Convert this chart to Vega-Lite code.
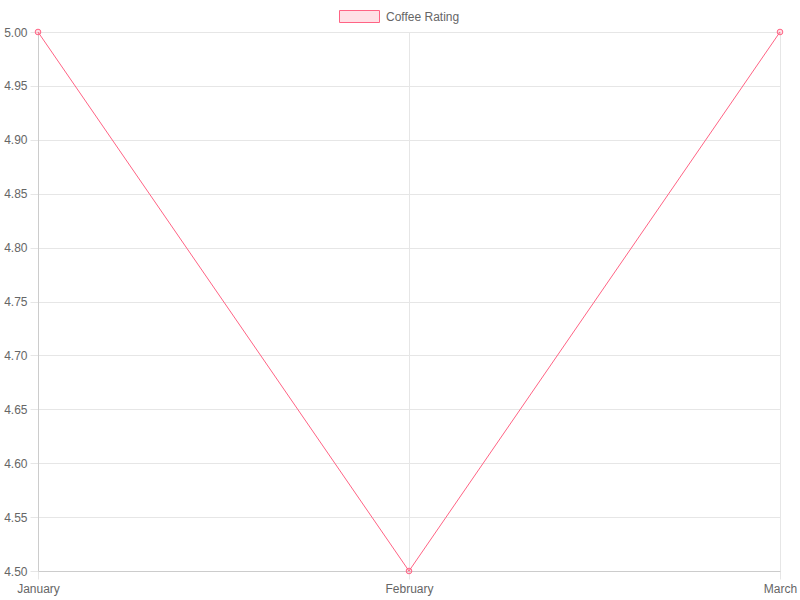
{
  "$schema": "https://vega.github.io/schema/vega-lite/v6.json",
  "width": 742,
  "height": 539,
  "autosize": {"type": "none"},
  "padding": {"left": 38, "top": 32, "right": 20, "bottom": 29},
  "background": "white",
  "data": {"values": [
    {"month": "January", "rating": 5.0, "series": "Coffee Rating"},
    {"month": "February", "rating": 4.5, "series": "Coffee Rating"},
    {"month": "March", "rating": 5.0, "series": "Coffee Rating"}
  ]},
  "config": {
    "font": "Liberation Sans",
    "view": {"stroke": null},
    "axis": {
      "labelFont": "Liberation Sans",
      "labelFontSize": 12,
      "labelColor": "#666666",
      "gridColor": "#e6e6e6",
      "tickColor": "#e6e6e6",
      "domainColor": "#cccccc",
      "tickSize": 8,
      "title": null
    }
  },
  "encoding": {
    "x": {
      "field": "month",
      "type": "ordinal",
      "sort": null,
      "scale": {"type": "point", "padding": 0},
      "axis": {"labelAngle": 0, "labelPadding": 4, "grid": true, "domain": true, "zindex": 0}
    },
    "y": {
      "field": "rating",
      "type": "quantitative",
      "scale": {"domain": [4.5, 5.0], "nice": false, "zero": false},
      "axis": {"values": [4.5, 4.55, 4.6, 4.65, 4.7, 4.75, 4.8, 4.85, 4.9, 4.95, 5.0], "format": ".2f", "labelPadding": 3, "grid": true, "domain": true, "zindex": 0}
    }
  },
  "layer": [
    {
      "mark": {"type": "line", "strokeWidth": 1, "clip": false},
      "encoding": {
        "color": {
          "field": "series",
          "type": "nominal",
          "scale": {"range": ["#ff6384"]},
          "legend": {
            "orient": "none",
            "legendX": 301,
            "legendY": -36,
            "title": null,
            "symbolType": "M-1,-0.3L1,-0.3L1,0.3L-1,0.3Z",
            "symbolSize": 1600,
            "symbolStrokeWidth": 1,
            "labelFont": "Liberation Sans",
            "labelFontSize": 12,
            "labelColor": "#666666",
            "labelOffset": 6,
            "padding": 0,
            "encode": {"symbols": {"update": {"fill": {"value": "rgba(255,99,132,0.2)"}, "stroke": {"value": "#ff6384"}, "strokeWidth": {"value": 1}, "opacity": {"value": 1}}}}
          }
        }
      }
    },
    {
      "mark": {"type": "point", "shape": "circle", "size": 32, "filled": false, "fill": "rgba(255,99,132,0.2)", "stroke": "#ff6384", "strokeWidth": 1, "opacity": 1, "clip": false}
    }
  ]
}
